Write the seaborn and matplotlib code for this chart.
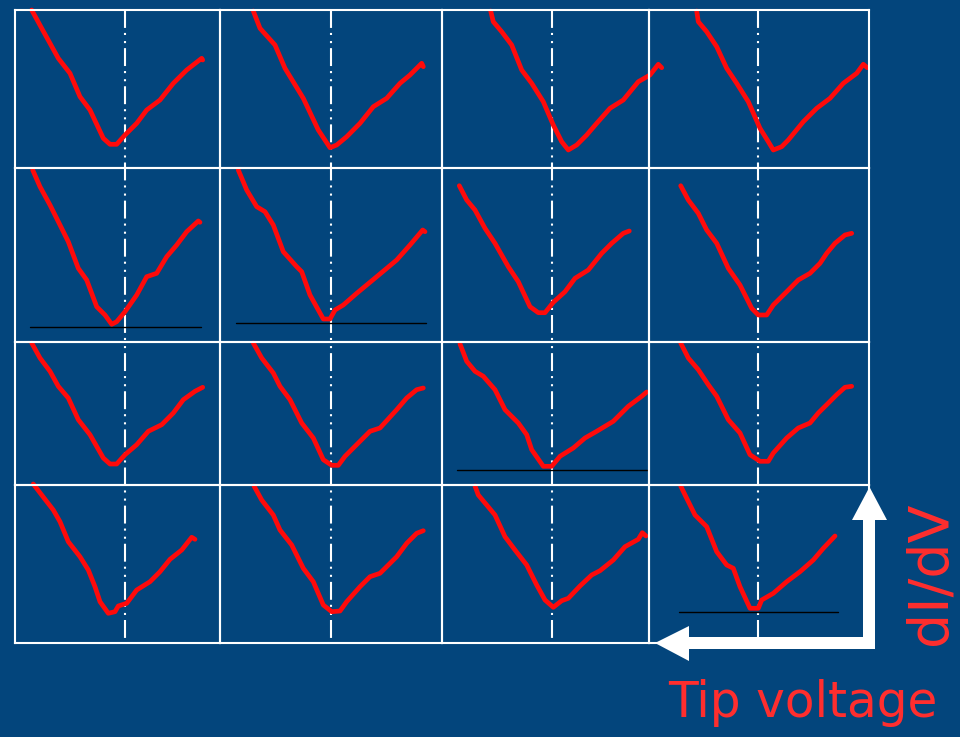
import matplotlib
matplotlib.use("Agg")
import matplotlib.pyplot as plt
import pandas as pd
import seaborn as sns
from matplotlib.patches import Polygon

sns.set_theme(style="white")
plt.rcParams["font.family"] = ["DejaVu Sans"]

# (tip voltage, dI/dV) pairs of each spectrum; voltage measured from the dash-dot zero line
spec_11 = [(-93.3, 158), (-83.3, 139.7), (-66.7, 109.7), (-55, 94.7), (-45, 71.3), (-35, 58),
           (-21.7, 29.7), (-15, 23.7), (-8.3, 23.7), (0, 33), (11.7, 44.7), (21.7, 58), (35, 68),
           (48.3, 84.7), (61.7, 98), (76.7, 109.7), (77.7, 108)]
spec_12 = [(-77.7, 157), (-71, 139.7), (-56, 123), (-46, 99.7), (-27.7, 69.7), (-12.7, 38),
           (-1, 20.3), (5.7, 23), (15.7, 31.3), (29, 44.7), (42.3, 61.3), (55.7, 69.7), (69, 84.7),
           (79, 93), (90.7, 104.7), (92.3, 101.3)]
spec_13 = [(-61.3, 157), (-58.7, 146.3), (-50.3, 136.3), (-40.3, 123), (-30.3, 98), (-20.3, 84.7),
           (-8.7, 66.3), (1.3, 43), (9.7, 26.3), (16.3, 18), (24.7, 23), (34.7, 33), (44.7, 44.7),
           (58, 59.7), (71.3, 68), (86.3, 86.3), (98, 93), (106.3, 103.7), (109.7, 100.3)]
spec_14 = [(-61.3, 157), (-59.7, 146.3), (-51.3, 136.3), (-41.3, 121.3), (-31.3, 99.7), (-21.3, 84.7),
           (-9.7, 66.3), (2, 39.7), (10.3, 26.3), (15.3, 18), (23.7, 21.3), (30.3, 28), (45.3, 46.3),
           (58.7, 59.7), (72, 69.7), (85.3, 84.7), (98.7, 94.7), (105.3, 103.7), (109.3, 100.3)]

spec_21 = [(-92.3, 172), (-85, 155.3), (-75, 137), (-65, 117), (-56.7, 100.3), (-46.7, 73.7),
           (-38.3, 62), (-28.3, 35.3), (-20, 27), (-13.3, 17.7), (-8.3, 20.3), (0, 30.3), (11.7, 47),
           (21.7, 65.3), (31.7, 68.7), (41.7, 85.3), (51.7, 97), (61.7, 110.3), (73.3, 121), (75, 119.7)]
spec_22 = [(-92.7, 172), (-84.3, 152), (-74.3, 135.3), (-66, 130.3), (-57.7, 117), (-47.7, 90.3),
           (-34.3, 75.3), (-29.3, 70.3), (-21, 47), (-7.7, 23), (-1, 23), (4, 32), (12.3, 37),
           (25.7, 48.7), (45.7, 65.3), (65.7, 82), (79, 97), (91.7, 112), (94, 110.3)]
spec_23 = [(-92.7, 156.3), (-85.3, 142), (-77, 132), (-67, 113.7), (-57, 98.7), (-43.7, 75.3),
           (-33.7, 60.3), (-22, 35.3), (-13.7, 29.3), (-7, 29.3), (1.3, 39.7), (13, 50.3), (23, 63.7),
           (36.3, 72), (49.7, 88.7), (59.7, 98.7), (71.3, 108.7), (77.3, 111)]
spec_24 = [(-77.3, 156.3), (-69.7, 142), (-59.7, 128.7), (-51.3, 112), (-41.3, 98.7), (-29.7, 73.7),
           (-18, 57), (-6.3, 33.7), (0.3, 27), (8.7, 27), (15.3, 37), (28.7, 50.3), (40.3, 62),
           (52, 68.7), (62, 78.7), (68.7, 88.7), (77, 98.7), (87, 107), (93.7, 108.7)]

spec_31 = [(-93.3, 142), (-85, 127), (-75, 113.7), (-66.7, 98.7), (-56.7, 87), (-46.7, 65.3),
           (-35, 50.3), (-21.7, 27), (-15, 21), (-8.3, 21), (0, 30.3), (11.7, 40.3), (23.3, 53.7),
           (36.7, 60.3), (48.3, 72), (58.3, 85.3), (70, 93.7), (77.7, 97.7)]
spec_32 = [(-77.7, 142), (-69.3, 127), (-57.7, 112), (-51, 98.7), (-41, 85.3), (-29.3, 62),
           (-17.7, 47), (-7.7, 25.3), (0.7, 19.7), (7.3, 19.7), (14, 28.7), (29, 43.7), (39, 53.7),
           (49, 57), (65.7, 75.3), (75.7, 87), (85.7, 95.3), (92.3, 97)]
spec_33 = [(-92, 141), (-85.3, 123.7), (-77, 113.7), (-68.7, 108.7), (-57, 95.3), (-47, 75.3),
           (-33.7, 62), (-25.3, 50.3), (-20.3, 35.3), (-8.7, 18.7), (-0.3, 18.7), (8, 28.7),
           (21.3, 37), (33, 47), (44.7, 53.7), (61.3, 63.7), (76.3, 78.7), (89.7, 88.7), (94.7, 93)]
spec_34 = [(-77.3, 142), (-69.7, 127), (-59.7, 115.3), (-49.7, 100.3), (-41.3, 88.7), (-29.7, 65.3),
           (-18, 52), (-8, 30.3), (2, 23.7), (10.3, 23.7), (15.3, 32), (28.7, 47), (40.3, 57),
           (52, 62), (60.3, 72), (68.7, 80.3), (78.7, 90.3), (87, 97.7), (93.7, 98.7)]

spec_41 = [(-91.7, 159), (-83.3, 148), (-71.7, 133), (-65, 121.3), (-56.7, 101.3), (-45, 86.3),
           (-36.7, 73), (-30, 56.3), (-25, 41.3), (-16.7, 29.7), (-10, 31.3), (-6.7, 37), (1.7, 39.7),
           (11.7, 53), (25, 61.3), (35, 71.3), (45, 83.7), (56.7, 93), (66.7, 105.7), (70, 103.7)]
spec_42 = [(-77, 157), (-69.3, 143), (-57.7, 128), (-51, 113), (-39.3, 98), (-27.7, 74.7),
           (-17.7, 61.3), (-7.7, 38), (0.7, 31.3), (9, 32), (15.7, 41.3), (29, 56.3), (39, 66.3),
           (49, 69.7), (65.7, 86.3), (75.7, 99.7), (85.7, 109.7), (92.3, 112.3)]
spec_43 = [(-77, 157), (-73.7, 148), (-65.3, 138), (-57, 128), (-47, 106.3), (-37, 93), (-25.3, 78),
           (-15.3, 58), (-7, 43), (1.3, 35.7), (9.7, 42.3), (16.3, 44.7), (28, 57), (39.7, 68),
           (48, 72.3), (61.3, 83), (73, 96.3), (86.3, 103.7), (90.3, 110.3), (94, 107)]
spec_44 = [(-77.3, 157), (-71.3, 144.7), (-63, 128), (-51.3, 116.3), (-41.3, 91.3), (-31.3, 78),
           (-24.7, 74.7), (-18, 56.3), (-8, 34.7), (0.3, 34.7), (3.7, 43), (15.3, 49.7), (28.7, 61.3),
           (42, 71.3), (55.3, 83), (65.3, 94.7), (77, 107)]

spectra = [[spec_11, spec_12, spec_13, spec_14],
           [spec_21, spec_22, spec_23, spec_24],
           [spec_31, spec_32, spec_33, spec_34],
           [spec_41, spec_42, spec_43, spec_44]]

# Reference conductance floor drawn under some spectra: (row, col) -> (level, V start, V end)
floor_panels = [(1, 0), (1, 1), (2, 2), (3, 3)]
floor_levels = [14.7, 18.7, 15.3, 30.7]
floor_v_start = [-95, -95, -95.3, -78.7]
floor_v_end = [75.7, 95, 96.3, 79.7]

# Figure layout, in pixels
W, H = 960, 737
col_edges = [15, 220, 442, 649, 869]
row_edges = [10, 168, 342, 485, 643]
zero_bias_x = [125, 331, 552, 758]

BG = "#03457C"
RED = "#FF0A0A"
LABEL_RED = "#FF2E2E"

fig = plt.figure(figsize=(W / 100, H / 100), dpi=100, facecolor=BG)

# Layer behind the panels: zero-bias dash-dot guides
back = fig.add_axes([0, 0, 1, 1], zorder=0)
back.set_xlim(0, W)
back.set_ylim(H, 0)
back.axis("off")
for xz in zero_bias_x:
    back.plot([xz, xz], [row_edges[0], row_edges[-1]], color="white", lw=1.5,
              linestyle=(0, (8.6, 2.4, 1.0, 2.9, 1.0, 2.4)), solid_capstyle="butt")

# Spectrum panels
for r in range(4):
    for c in range(4):
        left, right = col_edges[c], col_edges[c + 1]
        top, bottom = row_edges[r], row_edges[r + 1]
        ax = fig.add_axes([left / W, 1 - bottom / H, (right - left) / W, (bottom - top) / H],
                          zorder=1)
        ax.set_facecolor("none")
        ax.set_xlim(left - zero_bias_x[c], right - zero_bias_x[c])
        ax.set_ylim(0, bottom - top)
        df = pd.DataFrame(spectra[r][c], columns=["V", "dIdV"])
        sns.lineplot(data=df, x="V", y="dIdV", ax=ax, sort=False, estimator=None,
                     color=RED, lw=3.4)
        for ln in ax.lines:
            ln.set_clip_on(False)
            ln.set_solid_capstyle("round")
            ln.set_solid_joinstyle("round")
        if (r, c) in floor_panels:
            k = floor_panels.index((r, c))
            ax.plot([floor_v_start[k], floor_v_end[k]], [floor_levels[k], floor_levels[k]],
                    color="black", lw=1.0, clip_on=False, zorder=1)
        ax.set_xticks([])
        ax.set_yticks([])
        ax.set_xlabel("")
        ax.set_ylabel("")
        for sp in ax.spines.values():
            sp.set_color("white")
            sp.set_linewidth(1.5)

# Front layer: axis arrows and labels
front = fig.add_axes([0, 0, 1, 1], zorder=2)
front.set_facecolor("none")
front.set_xlim(0, W)
front.set_ylim(H, 0)
front.axis("off")
arrow_outline = [(875, 649), (689, 649), (689, 661), (655, 643), (689, 626), (689, 637),
                 (863, 637), (863, 520), (852, 520), (869.5, 487), (887, 520), (875, 520)]
front.add_patch(Polygon(arrow_outline, closed=True, facecolor="white", edgecolor="none"))
front.text(931, 573, "dI/dV", rotation=90, ha="center", va="center",
           fontsize=40, color=LABEL_RED)
front.text(803, 703, "Tip voltage", ha="center", va="center",
           fontsize=35, color=LABEL_RED)

fig.savefig("out.png", dpi=100, facecolor=BG)
